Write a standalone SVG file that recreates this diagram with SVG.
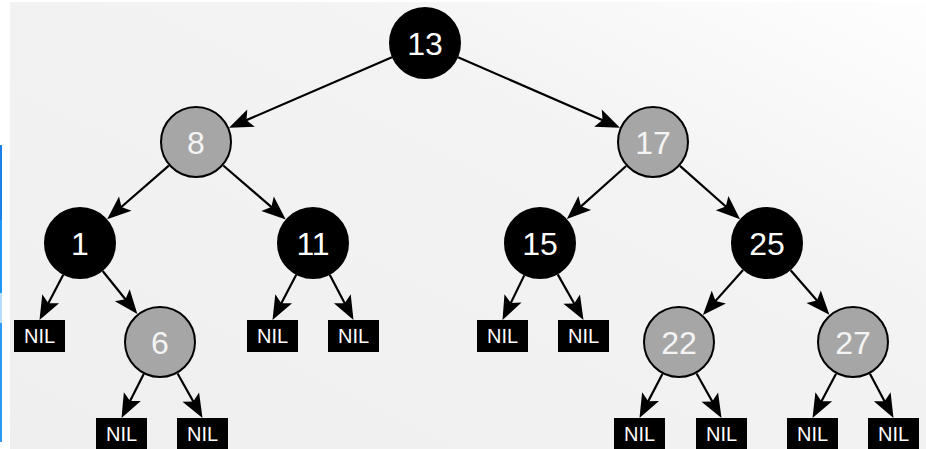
<svg xmlns="http://www.w3.org/2000/svg" width="926" height="449" viewBox="0 0 926 449">
<style>
.edge{stroke:#000;stroke-width:2.2;fill:none;marker-end:url(#ah)}
.blk{fill:#000;stroke:#000;stroke-width:2}
.gry{fill:#a6a6a6;stroke:#000;stroke-width:2}
.num{font-family:"Liberation Sans",Arial,sans-serif;font-size:32px;text-anchor:middle;fill:#fff}
.gnum{fill:#f4f4f4}
.nilbox{fill:#000}
.nil{font-family:"Liberation Sans",Arial,sans-serif;font-size:20px;text-anchor:middle;fill:#fff}
</style>
<defs>
<linearGradient id="bg" x1="0" y1="1" x2="1" y2="0">
<stop offset="0" stop-color="#efefef"/>
<stop offset="0.65" stop-color="#f3f3f3"/>
<stop offset="1" stop-color="#fefefe"/>
</linearGradient>
<marker id="ah" markerUnits="userSpaceOnUse" viewBox="-16 -12 28 24" markerWidth="28" markerHeight="24" refX="0" refY="0" orient="auto">
<path d="M10,0 L-14,-9.5 L-9,0 L-14,9.5 Z" fill="#000"/>
</marker>
</defs>
<rect x="0" y="0" width="926" height="449" fill="#fff"/>
<rect x="10" y="2" width="916" height="447" fill="url(#bg)"/>
<g id="sidebar">
<rect x="0" y="145" width="2" height="75" fill="#1b7fe6"/>
<rect x="0" y="220" width="2" height="73" fill="#2196f3"/>
<rect x="0" y="293" width="2" height="30" fill="#b8dcff"/>
<rect x="0" y="323" width="2" height="119" fill="#2a9af5"/>
</g>
<g id="connectors">
<line class="edge" x1="391.95" y1="57.29" x2="238.2" y2="123.7"/>
<line class="edge" x1="458.02" y1="57.34" x2="610.81" y2="123.68"/>
<line class="edge" x1="168.85" y1="165.64" x2="114.69" y2="212.79"/>
<line class="edge" x1="223.25" y1="165.52" x2="278.18" y2="212.95"/>
<line class="edge" x1="626.16" y1="165.99" x2="574.30" y2="212.35"/>
<line class="edge" x1="679.95" y1="165.87" x2="732.56" y2="212.50"/>
<line class="edge" x1="63.24" y1="274.86" x2="44.16" y2="311.15"/>
<line class="edge" x1="102.63" y1="271.0" x2="131.08" y2="306.22"/>
<line class="edge" x1="296.24" y1="274.86" x2="277.16" y2="311.15"/>
<line class="edge" x1="329.76" y1="274.86" x2="348.84" y2="311.15"/>
<line class="edge" x1="524.24" y1="275.36" x2="506.88" y2="311.01"/>
<line class="edge" x1="557.71" y1="274.34" x2="578.58" y2="311.29"/>
<line class="edge" x1="743.08" y1="269.91" x2="709.56" y2="307.62"/>
<line class="edge" x1="790.61" y1="270.18" x2="822.83" y2="307.27"/>
<line class="edge" x1="143.73" y1="374.12" x2="126.02" y2="409.08"/>
<line class="edge" x1="177.57" y1="373.42" x2="197.62" y2="409.27"/>
<line class="edge" x1="662.40" y1="373.94" x2="644.11" y2="409.13"/>
<line class="edge" x1="696.57" y1="373.42" x2="716.62" y2="409.27"/>
<line class="edge" x1="836.07" y1="373.77" x2="817.20" y2="409.18"/>
<line class="edge" x1="869.93" y1="373.77" x2="888.80" y2="409.18"/>
</g>
<g id="n13"><circle class="blk" cx="425" cy="43" r="35"/><text class="num" x="425" y="54.5">13</text></g>
<g id="n8"><circle class="gry" cx="196" cy="142" r="35"/><text class="num gnum" x="196" y="153.5">8</text></g>
<g id="n17"><circle class="gry" cx="653" cy="142" r="35"/><text class="num gnum" x="653" y="153.5">17</text></g>
<g id="n1"><circle class="blk" cx="80" cy="243" r="35"/><text class="num" x="80" y="254.5">1</text></g>
<g id="n11"><circle class="blk" cx="313" cy="243" r="35"/><text class="num" x="313" y="254.5">11</text></g>
<g id="n15"><circle class="blk" cx="540" cy="243" r="35"/><text class="num" x="540" y="254.5">15</text></g>
<g id="n25"><circle class="blk" cx="767" cy="243" r="35"/><text class="num" x="767" y="254.5">25</text></g>
<g id="n6"><circle class="gry" cx="160" cy="342" r="35"/><text class="num gnum" x="160" y="353.5">6</text></g>
<g id="n22"><circle class="gry" cx="679" cy="342" r="35"/><text class="num gnum" x="679" y="353.5">22</text></g>
<g id="n27"><circle class="gry" cx="853" cy="342" r="35"/><text class="num gnum" x="853" y="353.5">27</text></g>
<g id="nil1"><rect class="nilbox" x="14" y="320" width="51" height="32"/><text class="nil" x="39.5" y="343">NIL</text></g>
<g id="nil11a"><rect class="nilbox" x="247" y="320" width="51" height="32"/><text class="nil" x="272.5" y="343">NIL</text></g>
<g id="nil11b"><rect class="nilbox" x="328" y="320" width="51" height="32"/><text class="nil" x="353.5" y="343">NIL</text></g>
<g id="nil15a"><rect class="nilbox" x="477" y="320" width="51" height="32"/><text class="nil" x="502.5" y="343">NIL</text></g>
<g id="nil15b"><rect class="nilbox" x="558" y="320" width="51" height="32"/><text class="nil" x="583.5" y="343">NIL</text></g>
<g id="nil6a"><rect class="nilbox" x="96" y="418" width="51" height="32"/><text class="nil" x="121.5" y="441">NIL</text></g>
<g id="nil6b"><rect class="nilbox" x="177" y="418" width="51" height="32"/><text class="nil" x="202.5" y="441">NIL</text></g>
<g id="nil22a"><rect class="nilbox" x="614" y="418" width="51" height="32"/><text class="nil" x="639.5" y="441">NIL</text></g>
<g id="nil22b"><rect class="nilbox" x="696" y="418" width="51" height="32"/><text class="nil" x="721.5" y="441">NIL</text></g>
<g id="nil27a"><rect class="nilbox" x="787" y="418" width="51" height="32"/><text class="nil" x="812.5" y="441">NIL</text></g>
<g id="nil27b"><rect class="nilbox" x="868" y="418" width="51" height="32"/><text class="nil" x="893.5" y="441">NIL</text></g>
</svg>
